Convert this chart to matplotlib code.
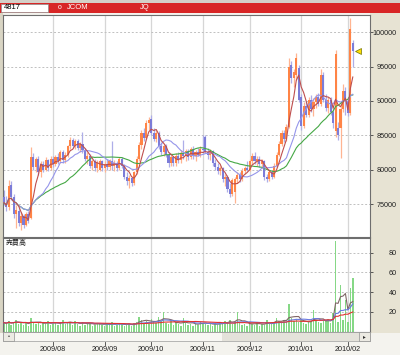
import matplotlib
matplotlib.use("Agg")
import matplotlib.pyplot as plt
from matplotlib.patches import Rectangle
from matplotlib.lines import Line2D
from matplotlib.transforms import blended_transform_factory
import numpy as np
import pandas as pd

plt.rcParams['font.family'] = ['Liberation Sans', 'Noto Sans CJK JP', 'DejaVu Sans']

# ---------------- data (prices in JPY, thousands) ----------------
opens = [76.0,75.2,74.5,77.8,76.0,73.5,74.0,72.3,73.2,72.0,73.5,73.0,81.8,80.4,81.5,79.6,80.8,80.0,81.4,80.2,
         81.6,80.8,81.9,81.2,82.5,81.4,82.2,83.4,84.3,83.5,84.2,83.1,83.8,82.8,81.6,82.0,80.6,81.2,80.2,80.0,81.2,
         80.2,80.8,80.4,81.3,80.6,81.0,80.2,81.5,80.6,79.0,78.4,78.8,78.0,79.6,81.6,83.6,85.4,84.6,86.8,
         87.4,85.4,84.5,85.3,83.4,82.6,83.5,82.2,81.0,81.8,80.9,82.0,81.4,82.4,82.0,82.7,81.8,83.0,82.0,82.5,82.2,
         83.0,84.8,82.6,82.2,82.7,81.0,80.4,79.8,80.2,78.6,79.0,77.2,76.4,76.8,78.6,79.2,78.6,79.8,80.3,
         80.0,81.2,82.0,81.2,81.6,80.8,81.2,79.0,78.6,79.6,79.0,80.6,82.2,83.8,85.4,84.4,86.2,95.2,93.3,93.8,94.8,
         90.5,86.4,89.2,88.0,90.2,88.8,89.8,90.5,89.6,93.8,90.2,89.0,90.2,88.4,85.6,86.0,86.0,88.8,91.5,
         90.0,88.2,98.4]
highs = [77.0,76.2,78.5,78.3,76.5,74.8,74.5,73.8,73.6,73.9,74.0,83.3,82.4,81.8,82.0,81.2,81.3,81.8,81.6,82.0,
         82.0,82.2,82.4,82.8,82.8,82.6,83.6,84.7,84.6,84.5,84.5,84.0,85.5,83.2,82.5,82.3,81.6,81.5,81.4,81.6,81.4,
         81.2,81.5,81.6,84.2,81.4,81.2,81.8,81.8,80.8,79.6,79.2,79.0,79.8,82.0,84.0,85.8,86.0,87.2,87.6,
         88.0,86.0,85.8,85.6,84.0,83.8,83.8,82.6,82.2,82.0,82.4,82.6,82.8,84.3,83.0,83.0,83.3,83.4,82.8,83.2,83.4,
         85.0,85.0,83.2,83.0,82.9,81.6,81.0,80.6,80.4,79.4,79.2,78.0,78.8,79.0,79.6,79.6,80.2,80.6,81.2,
         81.6,82.4,82.6,82.0,82.0,81.6,81.4,79.4,80.0,80.0,81.0,82.6,84.2,85.8,85.8,86.6,96.2,95.8,94.6,97.0,95.2,
         91.0,89.8,90.0,90.6,90.8,90.4,91.0,91.2,94.6,94.2,91.0,90.6,90.6,89.0,97.4,87.0,90.0,92.4,92.0,
         90.6,102.0,98.8]
lows = [74.8,74.0,74.2,75.6,73.0,71.5,71.8,71.2,71.5,71.8,72.2,72.8,80.0,79.6,79.2,79.0,79.6,79.8,79.8,80.0,
        80.4,80.5,80.8,81.0,81.0,81.0,81.8,83.0,83.2,83.0,82.8,82.6,82.4,81.2,80.8,80.2,80.0,79.8,79.6,79.8,79.8,
        79.6,80.0,80.0,80.0,79.8,79.8,80.0,80.2,78.6,77.8,77.3,77.6,77.8,79.4,81.2,83.0,84.2,84.4,85.8,
        85.0,84.2,84.0,83.0,82.2,82.0,81.8,80.4,80.6,80.5,80.6,81.0,81.0,81.6,81.2,81.4,81.5,81.6,81.2,82.0,81.8,
        82.4,82.4,81.6,81.4,80.6,80.0,79.4,79.2,78.2,77.6,76.8,76.0,76.2,75.1,78.0,78.2,78.4,79.4,79.8,
        79.8,80.8,80.8,80.6,80.4,80.2,78.5,78.2,78.4,78.6,78.8,80.4,82.0,83.4,84.0,84.2,86.0,92.6,92.0,93.0,89.8,
        85.8,86.0,87.6,87.6,88.4,87.8,89.0,89.2,89.2,89.8,88.6,88.2,88.0,86.0,84.7,84.3,81.7,88.4,88.0,
        87.8,88.0,95.0]
closes = [75.2,74.5,77.6,76.0,73.5,74.2,72.3,73.2,72.0,73.5,72.6,81.8,80.4,81.5,79.6,80.8,80.0,81.4,80.2,81.6,
          80.8,81.9,81.2,82.5,81.4,82.2,83.4,84.3,83.5,84.2,83.1,83.8,82.8,81.6,82.0,80.6,81.2,80.2,81.0,81.2,80.2,
          80.8,80.4,81.3,80.6,81.0,80.2,81.5,80.6,79.0,78.4,78.8,78.0,79.6,81.6,83.6,85.4,84.6,86.8,87.2,
          85.4,84.5,85.3,83.4,82.6,83.5,82.2,81.0,81.8,80.9,82.0,81.4,82.4,82.0,82.7,81.8,83.0,82.0,82.5,82.2,83.0,
          82.8,82.6,82.2,82.7,81.0,80.4,79.8,80.2,78.6,79.0,77.2,76.4,78.5,78.6,79.2,78.6,79.8,80.3,80.0,
          81.2,82.0,81.2,81.6,80.8,81.2,79.0,78.6,79.6,79.0,80.6,82.2,83.8,85.4,84.4,86.2,95.0,93.3,94.2,96.2,90.1,
          86.4,89.2,88.0,90.2,88.8,89.8,90.5,89.6,93.8,90.2,89.0,90.2,88.4,86.8,96.8,85.0,88.8,91.5,90.0,
          88.2,100.5,97.2]
volume = [9,8,11,7,10,12,8,9,7,10,6,14,9,8,10,7,9,8,11,7,
          8,10,7,9,12,8,10,9,7,11,8,6,10,7,9,8,6,7,9,8,7,
          6,8,7,10,6,7,9,8,6,7,8,6,9,10,15,12,9,11,8,
          13,10,9,15,11,20,9,8,12,7,10,8,6,14,9,7,8,6,9,7,10,
          9,8,7,8,6,9,7,10,8,11,9,12,8,10,20,9,7,8,6,
          10,8,7,9,6,8,7,12,9,8,10,14,11,9,12,10,28,14,11,13,10,
          12,9,8,10,11,22,12,10,9,11,12,13,9,19,92,10,47,12,32,
          10,44,54]
month_pos = [20, 41, 60, 81, 100, 121, 140]
month_labels = ["2009/08", "2009/09", "2009/10", "2009/11", "2009/12", "2010/01", "2010/02"]
price_ticks = [75000, 80000, 85000, 90000, 95000, 100000]
vol_ticks = [20, 40, 60, 80]

o = np.array(opens) * 1000
h = np.array(highs) * 1000
l = np.array(lows) * 1000
c = np.array(closes) * 1000
v = np.array(volume, dtype=float)
n = len(c)
x = np.arange(n)

cs = pd.Series(c)
ma_s = cs.rolling(5, min_periods=1).mean()
ma_m = cs.rolling(13, min_periods=1).mean()
ma_l = cs.rolling(26, min_periods=1).mean()
vs = pd.Series(v)
vma_s = vs.rolling(5, min_periods=1).mean()
vma_m = vs.rolling(13, min_periods=1).mean()
vma_l = vs.rolling(26, min_periods=1).mean()

W, H = 400, 355
fig = plt.figure(figsize=(W / 100, H / 100), dpi=100, facecolor='#F4F3EE')

def fx(px):
    return px / W

def fy(py):
    return 1 - py / H

def frect(x0, y0, x1, y1, **kw):
    fig.add_artist(Rectangle((fx(x0), fy(y1)), fx(x1) - fx(x0), fy(y0) - fy(y1),
                             transform=fig.transFigure, **kw))

# right beige strip and left edge
frect(370, 12.5, 400, 333, facecolor='#E7E3D3', edgecolor='none', zorder=0)
frect(0, 12.5, 3, 333, facecolor='#D9D5C4', edgecolor='none', zorder=0)
# header
frect(0, 0, 400, 3, facecolor='#D4D0C8', edgecolor='none')
frect(0, 3, 400, 12.5, facecolor='#D82626', edgecolor='none')
frect(0.5, 3.5, 48, 12, facecolor='white', edgecolor='#909090', linewidth=0.5)
fig.text(fx(4), fy(7.8), "4817", fontsize=5.5, color='black', va='center', ha='left')
fig.text(fx(58), fy(7.8), "o", fontsize=5, color='white', va='center', ha='left')
fig.text(fx(67), fy(7.8), "JCOM", fontsize=5.5, color='white', va='center', ha='left')
fig.text(fx(140), fy(7.8), "JQ", fontsize=5.5, color='white', va='center', ha='left')

ax = fig.add_axes([fx(3), fy(237), fx(367), fy(15) - fy(237)])
ax2 = fig.add_axes([fx(3), fy(331.5), fx(367), fy(238) - fy(331.5)])

xlim = (-0.35, 149)
up_col = '#FF8446'
dn_col = '#7C7CD8'

for a in (ax, ax2):
    a.set_facecolor('white')
    a.set_xlim(*xlim)
    for m in month_pos:
        a.axvline(m, color='#D6D6D6', lw=0.9, zorder=0)
    for s in a.spines.values():
        s.set_color('#6E6E6E')
        s.set_linewidth(0.8)
    a.yaxis.tick_right()
    a.tick_params(axis='y', length=2.2, width=0.6, color='#404040', labelsize=5.2, pad=17.0,
                  labelcolor='#202020')
    a.set_xticks([])

# candles
upm = c >= o
ax.vlines(x[upm], l[upm], h[upm], color='#FFB592', lw=0.9, zorder=2)
ax.vlines(x[~upm], l[~upm], h[~upm], color='#AEAEE8', lw=0.9, zorder=2)
ax.bar(x[upm], (c - o)[upm], bottom=o[upm], width=0.85, color=up_col, zorder=3, linewidth=0)
ax.bar(x[~upm], (o - c)[~upm], bottom=c[~upm], width=0.85, color=dn_col, zorder=3, linewidth=0)
ax.plot(x, ma_l, color='#45A845', lw=0.8, zorder=4)
ax.plot(x, ma_m, color='#9595EA', lw=0.8, zorder=4)
ax.plot(x, ma_s, color='#BE4E4E', lw=0.8, zorder=4)
ax.set_ylim(70200, 102500)
ax.set_yticks(price_ticks)
ax.set_yticklabels([str(t) for t in price_ticks])
for t in price_ticks:
    ax.axhline(t, color='#C0C0C0', lw=0.7, ls=(0, (2, 2)), zorder=1)
ax.plot([n + 1.3], [c[-1]], marker='<', ms=4.5, mfc='#FFE000', mec='#707000', mew=0.5,
        clip_on=False, zorder=6)

# volume
ax2.bar(x, v, width=0.6, color='#86D886', linewidth=0, zorder=2)
ax2.plot(x, vma_s, color='#806666', lw=0.8, zorder=4)
ax2.plot(x, vma_m, color='#6A7AE0', lw=0.8, zorder=4)
ax2.plot(x, vma_l, color='#E23232', lw=0.8, zorder=4)
ax2.set_ylim(0, 95)
ax2.set_yticks(vol_ticks)
ax2.set_yticklabels([str(t) for t in vol_ticks])
for t in vol_ticks:
    ax2.axhline(t, color='#C0C0C0', lw=0.7, ls=(0, (2, 2)), zorder=1)
ax2.text(0.006, 0.985, "売買高", transform=ax2.transAxes, fontsize=5,
         family=['Noto Sans CJK JP', 'DejaVu Sans'], va='top', ha='left', color='#202020')

for a in (ax, ax2):
    for lab in a.get_yticklabels():
        lab.set_horizontalalignment('right')

# scrollbar
frect(3, 332, 370, 341, facecolor='#E4E2DA', edgecolor='#A0A0A0', linewidth=0.5)
frect(13, 332.5, 222, 340.5, facecolor='#F8F7F3', edgecolor='none')
for bx in (3, 359):
    frect(bx, 332, bx + 11, 341, facecolor='#ECEAE3', edgecolor='#909090', linewidth=0.5)
fig.text(fx(8.5), fy(336.5), "•", fontsize=4, ha='center', va='center', color='#303030')
fig.text(fx(364.5), fy(336.5), "▸", fontsize=4, ha='center', va='center', color='#303030',
         family=['DejaVu Sans'])

# month ticks and labels below scrollbar
tr = blended_transform_factory(ax2.transData, fig.transFigure)
for m, lab in zip(month_pos, month_labels):
    fig.add_artist(Line2D([m, m], [fy(341.5), fy(344.5)], transform=tr, color='#404040', lw=0.6))
    fig.text(m, fy(349.5), lab, transform=tr, fontsize=5.2, ha='center', va='center', color='#202020')

fig.savefig("out.png", dpi=100, facecolor=fig.get_facecolor())
